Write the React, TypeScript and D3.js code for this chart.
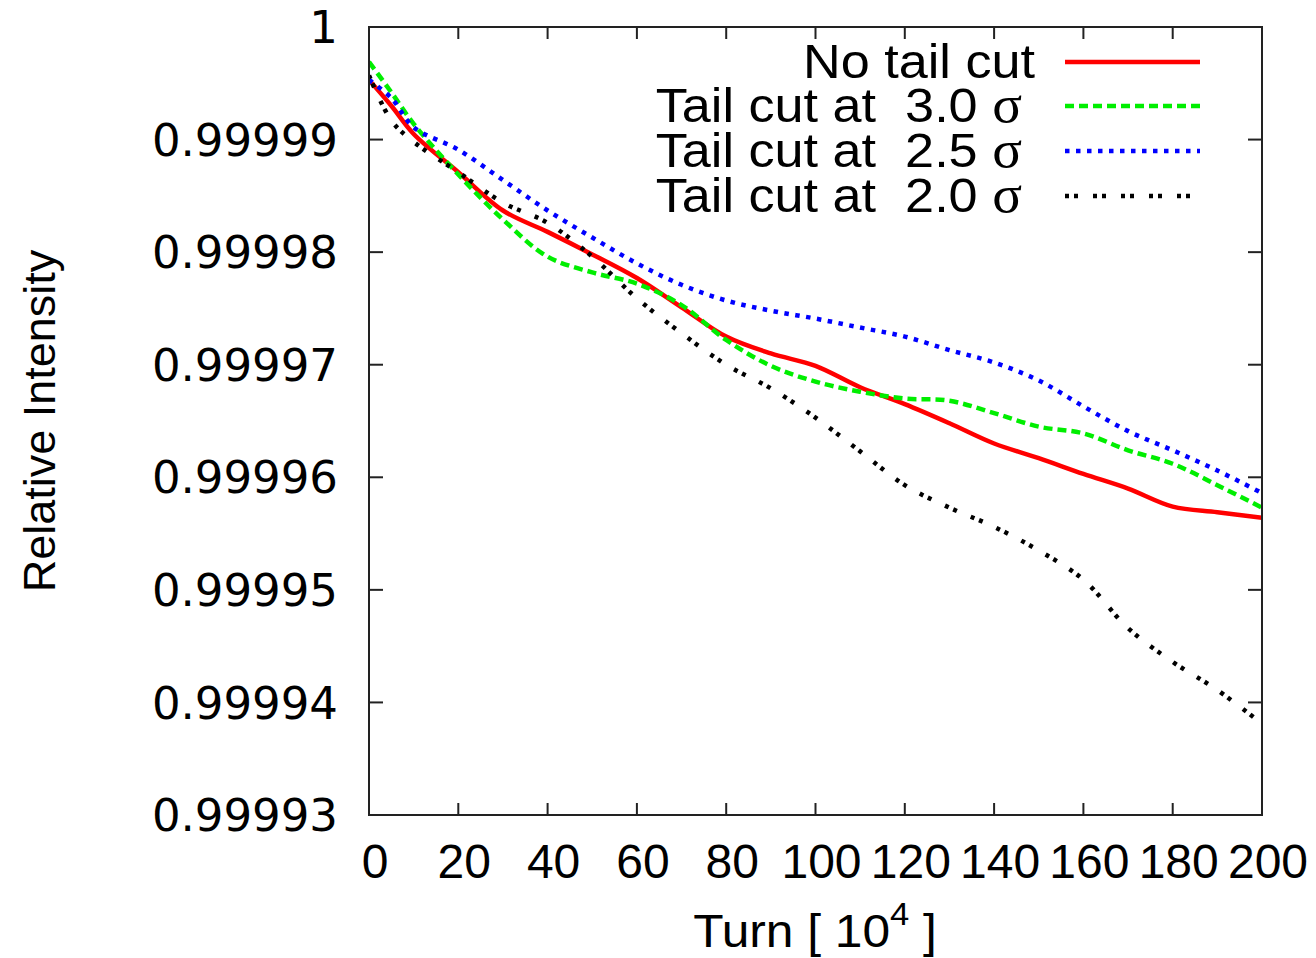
import React from "react";
import * as d3 from "d3";

const turns = [0, 5, 10, 20, 30, 40, 50, 60, 70, 80, 90, 100, 110, 120, 130, 140, 150, 160, 170, 180, 190, 200];

const noTailCut = [0.9999953, 0.999993, 0.9999905, 0.9999871, 0.9999837, 0.9999818, 0.9999798, 0.9999777, 0.9999751, 0.9999725, 0.999971, 0.9999699, 0.999968, 0.9999665, 0.9999648, 0.999963, 0.9999617, 0.9999603, 0.999959, 0.9999574, 0.9999569, 0.9999564];
const cut30 = [0.9999969, 0.9999942, 0.9999914, 0.9999869, 0.9999829, 0.9999796, 0.9999782, 0.9999772, 0.9999753, 0.9999722, 0.9999699, 0.9999685, 0.9999676, 0.999967, 0.9999668, 0.9999657, 0.9999645, 0.9999639, 0.9999624, 0.9999612, 0.9999593, 0.9999573];
const cut25 = [0.9999953, 0.9999937, 0.9999911, 0.9999891, 0.9999864, 0.9999837, 0.9999813, 0.999979, 0.9999771, 0.9999757, 0.9999748, 0.9999741, 0.9999733, 0.9999725, 0.9999713, 0.9999702, 0.9999686, 0.9999663, 0.9999641, 0.9999624, 0.9999606, 0.9999586];
const cut20 = [0.9999957, 0.9999917, 0.9999898, 0.9999871, 0.9999844, 0.9999826, 0.9999796, 0.9999759, 0.9999728, 0.99997, 0.9999679, 0.9999653, 0.9999623, 0.9999593, 0.9999573, 0.9999556, 0.9999535, 0.9999509, 0.9999466, 0.9999436, 0.9999411, 0.9999381];

const xTicks = [0, 20, 40, 60, 80, 100, 120, 140, 160, 180, 200];
const yTicks = [0.99993, 0.99994, 0.99995, 0.99996, 0.99997, 0.99998, 0.99999, 1];
const yTickLabels = ["0.99993", "0.99994", "0.99995", "0.99996", "0.99997", "0.99998", "0.99999", "1"];

const seriesNames = ["No tail cut", "Tail cut at  3.0 ", "Tail cut at  2.5 ", "Tail cut at  2.0 "];
const seriesData = [noTailCut, cut30, cut25, cut20];
const seriesColors = ["#ff0000", "#00ee00", "#0000ff", "#000000"];
const seriesDash = ["none", "9,5", "4.5,6.5", "4,5,4,15"];
const seriesWidth = [4.5, 4.5, 4.5, 4.5];
const seriesSigma = [false, true, true, true];

export default function App() {
  const W = 1316, H = 958;
  const L = 369, R = 1262, T = 27, B = 815;
  const x = d3.scaleLinear().domain([0, 200]).range([L, R]);
  const y = d3.scaleLinear().domain([0.99993, 1]).range([B, T]);
  const line = d3
    .line<number>()
    .x((_, i) => x(turns[i]))
    .y((v) => y(v))
    .curve(d3.curveCatmullRom.alpha(0.5));

  const sans = "'Liberation Sans', Arial, sans-serif";
  const legendY = [62, 106, 151, 196];
  const legendTextEnd = [1035, 1022, 1022, 1022];
  const legendLineEnd = [1200, 1200, 1200, 1190];
  const sx = 1.065;

  return (
    <div style={{ position: "absolute", left: 0, top: 0 }}>
      <svg width={W} height={H} viewBox={`0 0 ${W} ${H}`} style={{ display: "block", background: "#fff" }}>
        <rect x={0} y={0} width={W} height={H} fill="#fff" />
        <defs>
          <clipPath id="plotclip">
            <rect x={L} y={T} width={R - L} height={B - T} />
          </clipPath>
        </defs>
        {xTicks.map((t) => (
          <g key={"xt" + t}>
            <line x1={x(t)} x2={x(t)} y1={B} y2={B - 12} stroke="#222" strokeWidth={2} />
            <line x1={x(t)} x2={x(t)} y1={T} y2={T + 12} stroke="#222" strokeWidth={2} />
            <text x={x(t) + 6} y={878} fontFamily={sans} fontSize={48} textAnchor="middle" fill="#000">
              {t}
            </text>
          </g>
        ))}
        {yTicks.map((t, i) => (
          <g key={"yt" + i}>
            <line x1={L} x2={L + 14} y1={y(t)} y2={y(t)} stroke="#222" strokeWidth={2} />
            <line x1={R} x2={R - 14} y1={y(t)} y2={y(t)} stroke="#222" strokeWidth={2} />
            <text
              x={338}
              y={y(t)}
              dy="0.36em"
              fontFamily="'DejaVu Sans', Verdana, sans-serif"
              fontSize={45}
              textAnchor="end"
              fill="#000"
            >
              {yTickLabels[i]}
            </text>
          </g>
        ))}
        <g clipPath="url(#plotclip)">
          {seriesData.map((s, k) => (
            <path
              key={"s" + k}
              d={line(s) || ""}
              fill="none"
              stroke={seriesColors[k]}
              strokeWidth={seriesWidth[k]}
              strokeDasharray={seriesDash[k]}
              strokeLinejoin="round"
            />
          ))}
        </g>
        <rect x={L} y={T} width={R - L} height={B - T} fill="none" stroke="#222" strokeWidth={2} />
        {seriesNames.map((n, k) => (
          <g key={"lg" + k}>
            <text
              transform={`translate(${legendTextEnd[k]}, ${legendY[k] + 16}) scale(${sx}, 1)`}
              fontFamily={sans}
              fontSize={49}
              textAnchor="end"
              fill="#000"
              style={{ whiteSpace: "pre" }}
            >
              {n}
              {seriesSigma[k] ? (
                <tspan fontFamily="'Liberation Serif', 'DejaVu Serif', serif" fontSize={52}>
                  σ
                </tspan>
              ) : null}
            </text>
            <line
              x1={1065}
              x2={legendLineEnd[k]}
              y1={legendY[k]}
              y2={legendY[k]}
              stroke={seriesColors[k]}
              strokeWidth={seriesWidth[k]}
              strokeDasharray={seriesDash[k]}
            />
          </g>
        ))}
        <text
          transform={`translate(815, 947) scale(1.08, 1)`}
          fontFamily={sans}
          fontSize={46}
          textAnchor="middle"
          fill="#000"
          style={{ whiteSpace: "pre" }}
        >
          {"Turn [ 10"}
          <tspan fontSize={32} dy={-22}>4</tspan>
          <tspan dy={22}>{" ]"}</tspan>
        </text>
        <text
          transform={`translate(55, 421) rotate(-90)`}
          fontFamily={sans}
          fontSize={45}
          textAnchor="middle"
          fill="#000"
        >
          Relative Intensity
        </text>
      </svg>
    </div>
  );
}
